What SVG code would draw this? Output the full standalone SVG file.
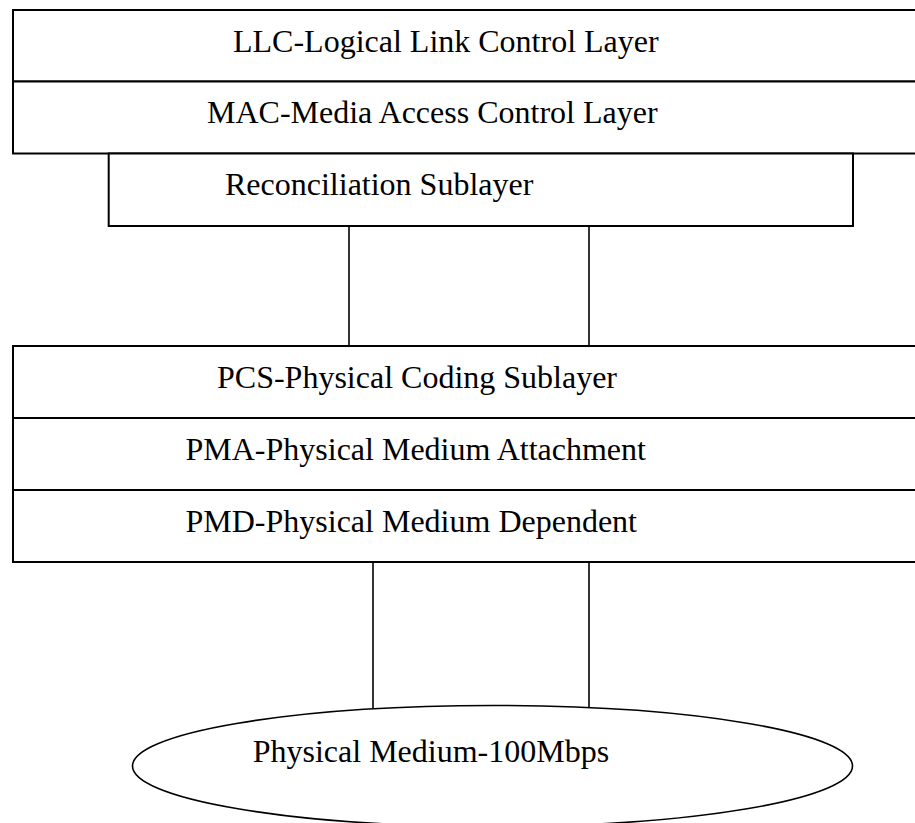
<svg xmlns="http://www.w3.org/2000/svg" width="915" height="823" viewBox="0 0 915 823">
  <style>
    .box { fill: #ffffff; stroke: #000000; stroke-width: 2; }
    .wire { stroke: #000000; stroke-width: 1.6; fill: none; }
    .label { font-family: "Liberation Serif", "Times New Roman", serif; font-size: 32px; fill: #000000; }
  </style>
  <rect width="915" height="823" fill="#ffffff"/>

  <!-- connectors between the layer stacks -->
  <g id="connectors">
    <line class="wire" x1="349" y1="226" x2="349" y2="346"/>
    <line class="wire" x1="589" y1="226" x2="589" y2="346"/>
    <line class="wire" x1="373" y1="562" x2="373" y2="708"/>
    <line class="wire" x1="589" y1="562" x2="589" y2="708"/>
  </g>

  <g id="llc">
    <rect class="box" x="13" y="10" width="920" height="71.5"/>
    <text class="label" x="233" y="51.5">LLC-Logical Link Control Layer</text>
  </g>
  <g id="mac">
    <rect class="box" x="13" y="81.5" width="920" height="72"/>
    <text class="label" x="207" y="123">MAC-Media Access Control Layer</text>
  </g>
  <g id="reconciliation">
    <rect class="box" x="108.7" y="153.5" width="744.3" height="72.5"/>
    <text class="label" x="225" y="195">Reconciliation Sublayer</text>
  </g>
  <g id="pcs">
    <rect class="box" x="13" y="346" width="920" height="72"/>
    <text class="label" x="217" y="387.5">PCS-Physical Coding Sublayer</text>
  </g>
  <g id="pma">
    <rect class="box" x="13" y="418" width="920" height="72"/>
    <text class="label" x="185.5" y="459.5">PMA-Physical Medium Attachment</text>
  </g>
  <g id="pmd">
    <rect class="box" x="13" y="490" width="920" height="72"/>
    <text class="label" x="185.5" y="531.5">PMD-Physical Medium Dependent</text>
  </g>
  <g id="medium">
    <ellipse cx="492.5" cy="766" rx="360" ry="60.5" fill="#ffffff" stroke="#000000" stroke-width="1.6"/>
    <text class="label" x="252.7" y="761.7">Physical Medium-100Mbps</text>
  </g>
</svg>
